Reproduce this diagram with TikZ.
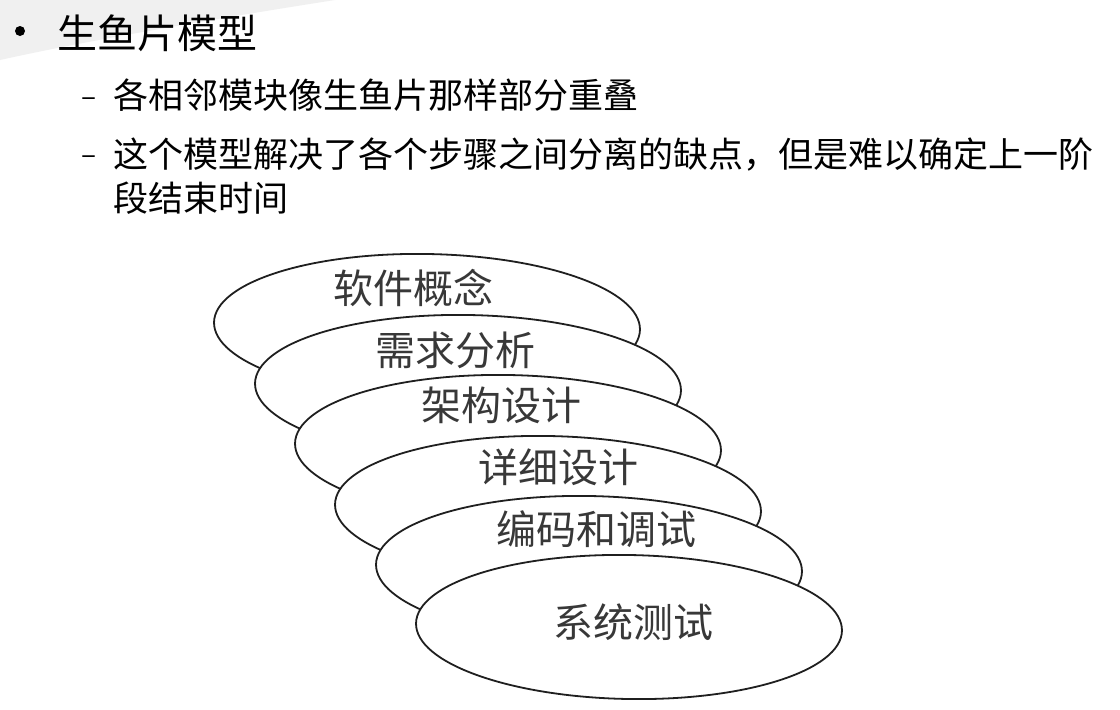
\documentclass[tikz,border=0pt]{standalone}
\usepackage{fontspec}
\newfontfamily\cjk{Noto Sans CJK SC}
\usetikzlibrary{shapes.geometric}
\begin{document}
\begin{tikzpicture}[x=1pt,y=-1pt,
  slice/.style={ellipse, draw=black!88, line width=1.8pt, fill=white,
    minimum width=426pt, minimum height=144pt, inner sep=0pt, rotate=-1},
  lab/.style={font=\cjk\fontsize{40}{48}\selectfont, text=black!78, inner sep=0pt},
  head/.style={font=\cjk\fontsize{40}{48}\selectfont, anchor=west, inner sep=0pt},
  sub/.style={font=\cjk\fontsize{35}{42}\selectfont, anchor=west, inner sep=0pt},
  dashmark/.style={font=\cjk\fontsize{28}{30}\selectfont, inner sep=0pt},
]
\useasboundingbox (0,0) rectangle (1120,710);
\fill[white] (0,0) rectangle (1120,710);
\fill[black!6] (0,0) -- (335,0) .. controls (220,18) and (90,40) .. (0,60) -- cycle;

% text
\node[circle, fill=black, inner sep=0pt, minimum size=10pt] (bul) at (20,31) {};
\node[head] (title) at (57,33) {生鱼片模型};
\node[dashmark] (d1) at (89,102) {–};
\node[sub] (s1) at (113,95) {各相邻模块像生鱼片那样部分重叠};
\node[dashmark] (d2) at (89,160) {–};
\node[sub] (s2) at (113,155) {这个模型解决了各个步骤之间分离的缺点，但是难以确定上一阶};
\node[sub] (s3) at (113,198) {段结束时间};

% slices
\node[slice] (e1) at (427,326) {};
\node[lab] (t1) at (413,288) {软件概念};
\node[slice] (e2) at (468,387) {};
\node[lab] (t2) at (455,350) {需求分析};
\node[slice] (e3) at (508,447) {};
\node[lab] (t3) at (501,405) {架构设计};
\node[slice] (e4) at (548,508) {};
\node[lab] (t4) at (558,467) {详细设计};
\node[slice] (e5) at (589,568) {};
\node[lab] (t5) at (596,529) {编码和调试};
\node[slice] (e6) at (629,627) {};
\node[lab] (t6) at (633,622) {系统测试};
\end{tikzpicture}
\end{document}
